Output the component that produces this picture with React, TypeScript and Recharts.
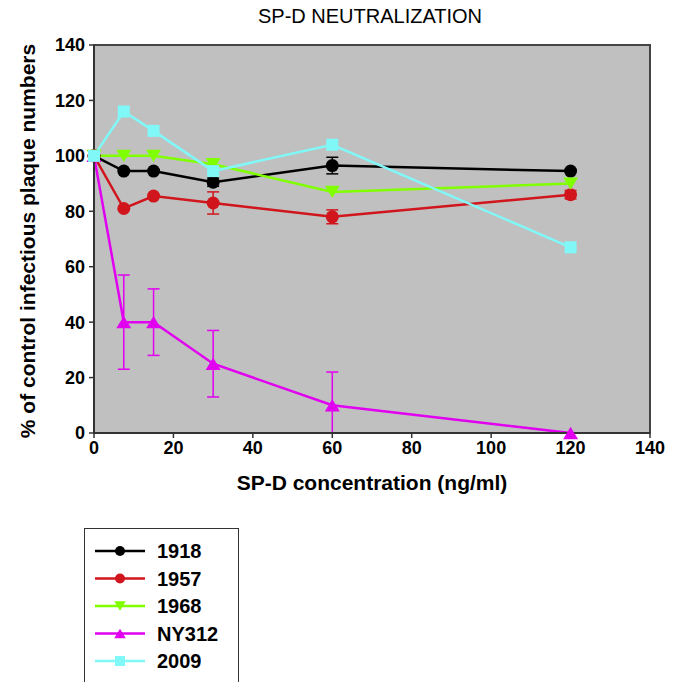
import { LineChart, Line, XAxis, YAxis, CartesianGrid, ErrorBar, ReferenceArea, Label } from 'recharts'

// SP-D concentration (ng/ml)
const CONC = [0, 7.5, 15, 30, 60, 120]

// % of control plaque numbers per strain
const V1918 = [100, 94.5, 94.5, 90.5, 96.5, 94.5]
const E1918 = [0, 0, 0, 1.5, 3, 0]
const V1957 = [100, 81, 85.5, 83, 78, 86]
const E1957 = [0, 0, 0, 4, 2.5, 1.5]
const V1968 = [100, 100, 100, 97, 87, 90]
const VNY312 = [100, 40, 40, 25, 10, 0]
const ENY312: Array<number | number[]> = [0, 17, 12, 12, [10, 12], 0]
const V2009 = [100, 116, 109, 94.5, 104, 67]

const X_TICKS = [0, 20, 40, 60, 80, 100, 120, 140]
const Y_TICKS = [0, 20, 40, 60, 80, 100, 120, 140]

type Shape = 'circle' | 'down' | 'up' | 'square'

const SERIES: Array<{ key: string; name: string; color: string; shape: Shape; values: number[]; err?: Array<number | number[]> }> = [
    { key: 's1918', name: '1918', color: '#000000', shape: 'circle', values: V1918, err: E1918 },
    { key: 's1957', name: '1957', color: '#d0161c', shape: 'circle', values: V1957, err: E1957 },
    { key: 's1968', name: '1968', color: '#80ff00', shape: 'down', values: V1968 },
    { key: 'sNY312', name: 'NY312', color: '#e100f0', shape: 'up', values: VNY312, err: ENY312 },
    { key: 's2009', name: '2009', color: '#80f8f8', shape: 'square', values: V2009 },
]

const data = CONC.map((c, i) => {
    const row: Record<string, any> = { conc: c }
    SERIES.forEach(s => {
        row[s.key] = s.values[i]
        if (s.err) row[s.key + '_e'] = s.err[i]
    })
    return row
})

const FONT = '"Liberation Sans", Arial, sans-serif'

function marker(shape: Shape, color: string, cx: number, cy: number, r: number, key?: any) {
    if (shape === 'circle') return <circle key={key} cx={cx} cy={cy} r={r} fill={color} stroke="none" />
    if (shape === 'square')
        return <rect key={key} x={cx - r} y={cy - r} width={2 * r} height={2 * r} fill={color} stroke="none" />
    const h = r * 1.9
    const w = r * 1.15
    if (shape === 'up')
        return <polygon key={key} points={`${cx - w},${cy + h / 2} ${cx + w},${cy + h / 2} ${cx},${cy - h / 2}`} fill={color} />
    return <polygon key={key} points={`${cx - w},${cy - h / 2} ${cx + w},${cy - h / 2} ${cx},${cy + h / 2}`} fill={color} />
}

function ChartLegend() {
    return (
        <div
            style={{
                position: 'absolute',
                left: 84,
                top: 528,
                width: 153,
                height: 170,
                border: '1.5px solid #333',
                background: '#fff',
            }}
        >
            <svg width={153} height={170}>
                {SERIES.map((s, i) => {
                    const y = 22 + i * 27.5
                    return (
                        <g key={s.key}>
                            <line x1={10} x2={60} y1={y} y2={y} stroke={s.color} strokeWidth={2.5} />
                            {marker(s.shape, s.color, 35, y, 5)}
                            <text
                                x={72}
                                y={y}
                                dy="0.36em"
                                fontFamily={FONT}
                                fontWeight="bold"
                                fontSize={20}
                                fill="#000"
                            >
                                {s.name}
                            </text>
                        </g>
                    )
                })}
            </svg>
        </div>
    )
}

export default function App() {
    return (
        <div style={{ position: 'absolute', left: 0, top: 0, width: 680, height: 682, overflow: 'hidden', background: '#fff' }}>
            <div
                style={{
                    position: 'absolute',
                    left: 0,
                    width: 740,
                    top: 5,
                    textAlign: 'center',
                    fontFamily: FONT,
                    fontSize: 20,
                    color: '#000',
                }}
            >
                SP-D NEUTRALIZATION
            </div>
            <LineChart width={680} height={520} data={data} margin={{ top: 45, right: 30, left: 10, bottom: 0 }}>
                <CartesianGrid fill="#c0c0c0" horizontal={false} vertical={false} />
                <ReferenceArea x1={0} x2={140} y1={0} y2={140} fill="none" stroke="#444" strokeWidth={2} />
                <XAxis
                    dataKey="conc"
                    type="number"
                    domain={[0, 140]}
                    ticks={X_TICKS}
                    height={87}
                    tickSize={5}
                    tickMargin={3}
                    axisLine={{ stroke: '#333', strokeWidth: 2 }}
                    tickLine={{ stroke: '#333', strokeWidth: 1.5 }}
                    tick={{ fill: '#000', fontFamily: FONT, fontWeight: 'bold', fontSize: 18 }}
                >
                    <Label
                        value="SP-D concentration (ng/ml)"
                        position="insideTop"
                        offset={42}
                        style={{ fill: '#000', fontFamily: FONT, fontWeight: 'bold', fontSize: 21 }}
                    />
                </XAxis>
                <YAxis
                    type="number"
                    domain={[0, 140]}
                    ticks={Y_TICKS}
                    width={84}
                    tickSize={5}
                    tickMargin={4}
                    axisLine={{ stroke: '#333', strokeWidth: 2 }}
                    tickLine={{ stroke: '#333', strokeWidth: 1.5 }}
                    tick={{ fill: '#000', fontFamily: FONT, fontWeight: 'bold', fontSize: 18 }}
                >
                    <Label
                        content={() => (
                            <text
                                x={27}
                                y={241}
                                transform="rotate(-90 27 241)"
                                textAnchor="middle"
                                dy="0.36em"
                                fontFamily={FONT}
                                fontWeight="bold"
                                fontSize={21}
                                fill="#000"
                            >
                                % of control infectious plaque numbers
                            </text>
                        )}
                    />
                </YAxis>
                {SERIES.map(s => (
                    <Line
                        key={s.key}
                        dataKey={s.key}
                        name={s.name}
                        type="linear"
                        stroke={s.color}
                        strokeWidth={2.5}
                        isAnimationActive={false}
                        dot={(p: any) => marker(s.shape, s.color, p.cx, p.cy, s.shape === 'square' ? 6 : 6.5, `${s.key}-${p.index}`)}
                        activeDot={false}
                    >
                        {s.err && (
                            <ErrorBar dataKey={s.key + '_e'} direction="y" width={6} stroke={s.color} strokeWidth={1.5} />
                        )}
                    </Line>
                ))}
            </LineChart>
            <ChartLegend />
        </div>
    )
}
